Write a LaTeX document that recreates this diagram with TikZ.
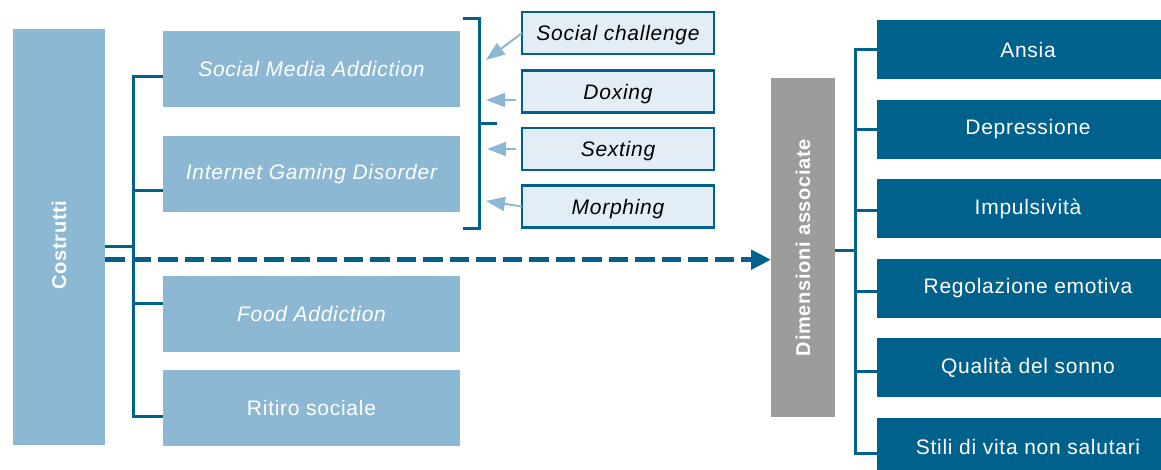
\documentclass[tikz,border=0pt]{standalone}
\usepackage{fontspec}
\setmainfont[LetterSpace=3.5]{Liberation Sans}
\usepackage{graphicx}
\usetikzlibrary{arrows.meta}
\definecolor{deepblue}{HTML}{00628C}
\definecolor{paleblue}{HTML}{8DB8D4}
\definecolor{iceblue}{HTML}{E2EDF6}
\definecolor{stone}{HTML}{9C9C9B}
\tikzstyle{every node}=[inner sep=0pt, outer sep=0pt, font=\fontsize{21}{25}\selectfont]
\tikzstyle{costrutto}=[fill=paleblue, text=white, minimum width=297pt, minimum height=76pt, font=\fontsize{21}{25}\selectfont\itshape]
\tikzstyle{rischio}=[fill=iceblue, draw=deepblue, line width=2.2pt, minimum width=192pt, minimum height=42pt, text height=18pt, text depth=2pt, font=\fontsize{21}{25}\selectfont\itshape]
\tikzstyle{dimensione}=[fill=deepblue, text=white, minimum width=302pt, minimum height=59pt]
\tikzstyle{titolo}=[text=white, minimum width=92pt, minimum height=416pt, font=\fontsize{20}{24}\selectfont\bfseries]
\tikzstyle{link}=[deepblue, line width=3pt]
\tikzstyle{hint}=[paleblue, line width=2pt, -{Triangle[length=19pt, width=14pt]}]

\begin{document}
\begin{tikzpicture}[x=1pt, y=-1pt]
\clip (0,0) rectangle (1161,470);
% costrutti
\node[titolo, fill=paleblue] (cos) at (59,237) {\rotatebox{90}{Costrutti\hspace{16pt}}};
\node[costrutto] (sma) at (311.5,69) {Social Media Addiction};
\node[costrutto] (igd) at (311.5,174) {Internet Gaming Disorder};
\node[costrutto] (fa) at (311.5,313.5) {Food Addiction};
\node[costrutto, font=\fontsize{21}{25}\selectfont] (rs) at (311.5,407.5) {Ritiro sociale};
\coordinate (spl) at (133,246.7);
\draw[link] (cos.east |- spl) -- (spl);
\draw[link] ([yshift=-8pt]sma.west) -| (spl) |- ([yshift=-8.5pt]rs.west);
\draw[link] ([yshift=-16.7pt]igd.west) -- ++(-30,0);
\draw[link] ([yshift=10.5pt]fa.west) -- ++(-30,0);
% parentesi
\draw[link] (463,19) -| (479,229) -- (463,229);
\draw[link] (479,124) -- (497,124);
\node[rischio] (sc) at (618,33) {Social challenge};
\node[rischio] (dx) at (618,91.5) {Doxing};
\node[rischio] (sx) at (618,149) {Sexting};
\node[rischio] (mo) at (618,206.5) {Morphing};
\coordinate (psc) at (486,60);
\coordinate (pdx) at (486,100);
\coordinate (psx) at (487,149);
\coordinate (pmo) at (486,201);
\draw[hint] (sc.west) -- (psc);
\draw[hint] ([xshift=-6pt,yshift=-8.5pt]dx.west) -- (pdx);
\draw[hint] ([xshift=-6pt]sx.west) -- (psx);
\draw[hint] (mo.west) -- (pmo);
% dimensioni
\node[titolo, fill=stone, minimum width=64pt, minimum height=339pt] (dim) at (803,247.5) {\rotatebox{90}{Dimensioni associate}};
\node[dimensione] (an) at (1028,49.5) {Ansia};
\node[dimensione] (de) at (1028,129.5) {Depressione};
\node[dimensione] (im) at (1028,208.5) {Impulsività};
\node[dimensione] (re) at (1028,288.5) {Regolazione emotiva};
\node[dimensione] (qu) at (1028,367.5) {Qualità del sonno};
\node[dimensione] (st) at (1028,447) {Stili di vita non salutari};
\coordinate (lev) at (0,259.7);
\draw[deepblue, line width=5.5pt, dash pattern=on 19.5pt off 7pt, -{Triangle[length=20pt, width=19pt]}] (cos.east |- lev) -- (dim.west |- lev);
\coordinate (spr) at (855,251);
\draw[link] (dim.east |- spr) -- (spr);
\draw[link] ([yshift=-0.5pt]an.west) -| (spr) |- ([yshift=-6pt]st.west);
\foreach \n/\dy in {de/-0.5, im/-2, re/-2.7, qu/-3.5}
	\draw[link] ([yshift=\dy pt]\n.west) -- ++(-22,0);
\end{tikzpicture}
\end{document}
